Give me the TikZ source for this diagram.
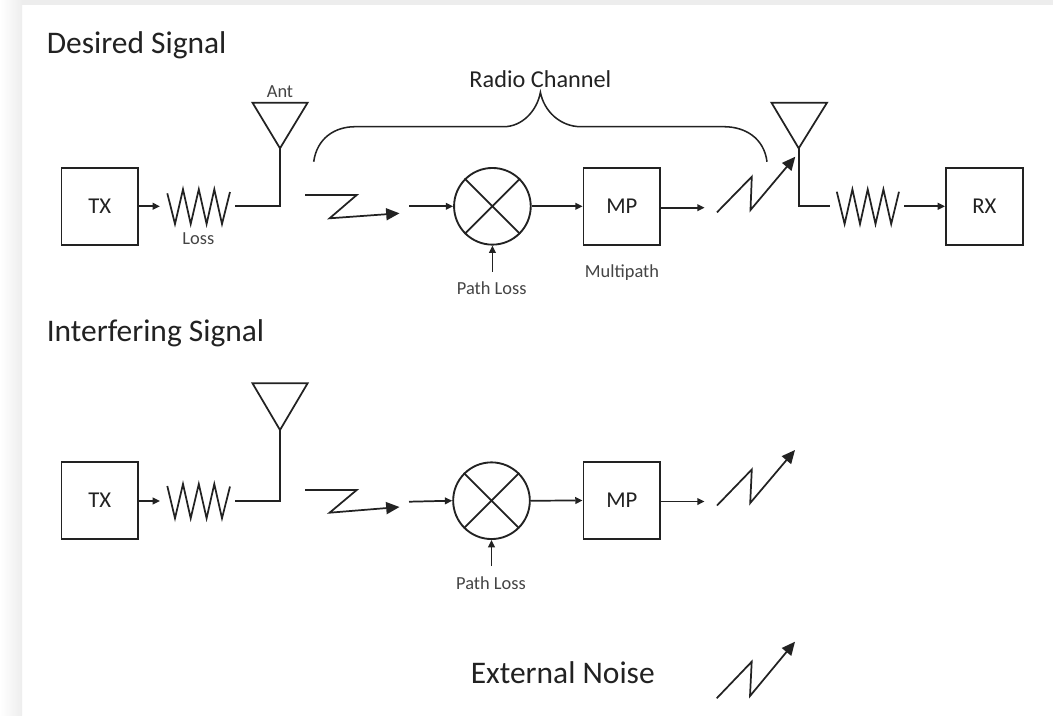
\documentclass[tikz,border=0pt]{standalone}
\usepackage{fontspec}
\setmainfont{Carlito}
\usetikzlibrary{arrows.meta}
\definecolor{ink}{HTML}{222222}
\definecolor{soft}{HTML}{444444}
\tikzset{
  x=0.75pt,y=-0.75pt,
  wire/.style={draw=ink,line width=1.3pt,line join=miter},
  feed/.style={wire,-{Triangle[length=5.5pt,width=5pt]}},
  bolt/.style={wire,-{Triangle[length=10pt,width=9pt]}},
  block/.style={draw=ink,line width=1.4pt,minimum width=57.5pt,minimum height=57.5pt,inner sep=0pt,font=\fontsize{17}{20}\selectfont,text=ink},
  mixer/.style={circle,draw=ink,line width=1.4pt,minimum size=57.5pt,inner sep=0pt},
  heading/.style={font=\fontsize{23.6}{28}\selectfont,text=ink,inner sep=0pt,anchor=base west},
  small/.style={font=\fontsize{13.8}{16}\selectfont,text=soft,inner sep=0pt},
}
\begin{document}
\begin{tikzpicture}
\useasboundingbox (0,0) rectangle (1053,715);
\fill[white] (0,0) rectangle (1053,715);
\shade[left color=white,right color=black!7,shading angle=90] (0,0) rectangle (22,715);
\fill[black!7] (22,0) rectangle (1053,4.5);
% headings
\node[heading] (h1) at (46.5,53) {Desired Signal};
\node[heading] (h2) at (46.5,341) {Interfering Signal};
\node[heading] (h3) at (470.5,683) {External Noise};
\node[font=\fontsize{18.2}{22}\selectfont,text=ink,inner sep=0pt,anchor=base] (rc) at (540.4,87) {Radio Channel};
% --- desired chain
\node[block] (tx1) at (99.8,206.3) {TX};
\node[mixer] (mx1) at (492.4,206.3) {};
\node[block] (mp1) at (621.85,206.3) {MP};
\node[block] (rx) at (984.3,206.3) {RX};
\node[small] (loss1) at (198.4,238.5) {Loss};
\node[small] (ant1l) at (280,91.7) {Ant};
\node[small] (pl1) at (491.7,288.2) {Path Loss};
\node[small] (mpl) at (622,272.5) {Multipath};
\coordinate (r1b) at (235,206.3);
\coordinate (a1) at (280,148.3);
\coordinate (a1c) at (280,206.3);
\draw[feed] (tx1.east) -- (160,206.3);
\draw[wire] (167.3,193.3) -- (175,224) -- (183,189.3) -- (190.7,224) -- (198.8,189.3) -- (206.6,224) -- (214.3,189.3) -- (222,224) -- (230,192);
\draw[wire] (r1b) -- (a1c) -- (a1);
\draw[wire] (252.5,102.7) -- (307.6,102.7) -- (a1) -- cycle;
\draw[bolt] (305,195) -- (356.7,195) -- (329.6,218.3) -- (399.5,213.3);
\coordinate (m1in) at (409,206.3);
\draw[feed] (m1in) -- (mx1.west);
\draw[wire] (mx1.45) -- (mx1.225) (mx1.135) -- (mx1.315);
\coordinate (pl1a) at (492.4,271.7);
\draw[feed] (pl1a) -- (mx1.south);
\draw[feed] (mx1.east) -- (mp1.west);
\coordinate (mp1o) at (704.6,207.7);
\draw[feed] (mp1.east |- mp1o) -- (mp1o);
\draw[bolt] (717,212.3) -- (751.8,176.7) -- (750.5,210) -- (795.3,156.7);
\coordinate (a2) at (798.7,148.3);
\coordinate (a2c) at (798.7,206);
\coordinate (r2a) at (830.3,206);
\draw[wire] (a2) -- (a2c) -- (r2a);
\draw[wire] (771.5,102.7) -- (827,102.7) -- (a2) -- cycle;
\draw[wire] (836.8,191.7) -- (844.6,224) -- (852.4,189.3) -- (860,224) -- (867.7,189.3) -- (875.5,224) -- (883.4,189.3) -- (891.2,224) -- (899,191.7);
\coordinate (r2b) at (904,206.3);
\draw[feed] (r2b) -- (rx.west);
% brace
\draw[wire,line width=1.15pt] (313.7,161.7) .. controls (317,138) and (335,126.7) .. (355,126.7) -- (503.7,126.7) .. controls (522,126.7) and (537,111) .. (540.4,92.3) .. controls (544,111) and (560,126.7) .. (581,126.7) -- (724,126.7) .. controls (745,126.7) and (764,138) .. (767,161.7);
% --- interfering chain
\node[block] (tx2) at (99.8,500.5) {TX};
\node[mixer] (mx2) at (491.5,500.7) {};
\node[block] (mp2) at (621.85,500.5) {MP};
\node[small] (pl2) at (491,582.7) {Path Loss};
\coordinate (r3b) at (235,501);
\coordinate (a3) at (280,430);
\coordinate (a3c) at (280,501);
\draw[feed] (tx2.east |- r3b) -- (160,501);
\draw[wire] (167.3,486) -- (175,518.3) -- (183,484) -- (190.7,518.3) -- (198.8,484) -- (206.6,518.3) -- (214.3,484) -- (222,518.3) -- (230,486.5);
\draw[wire] (r3b) -- (a3c) -- (a3);
\draw[wire] (252.5,383.3) -- (307.6,383.3) -- (a3) -- cycle;
\draw[bolt] (305,490) -- (356.7,490) -- (329.6,512.7) -- (399.5,507);
\coordinate (m2in) at (409,501.7);
\draw[feed] (m2in) -- (mx2.west);
\draw[wire] (mx2.45) -- (mx2.225) (mx2.135) -- (mx2.315);
\coordinate (pl2a) at (491.5,566);
\draw[feed] (pl2a) -- (mx2.south);
\draw[feed] (mx2.east) -- (mp2.west);
\coordinate (mp2o) at (704.6,501.5);
\draw[feed] (mp2.east |- mp2o) -- (mp2o);
\draw[bolt] (717,505.5) -- (751.8,469.5) -- (750.2,503) -- (795,450);
% --- external noise
\draw[bolt] (716.7,698.3) -- (751.7,661.7) -- (750,696) -- (795,641.7);
\end{tikzpicture}
\end{document}
